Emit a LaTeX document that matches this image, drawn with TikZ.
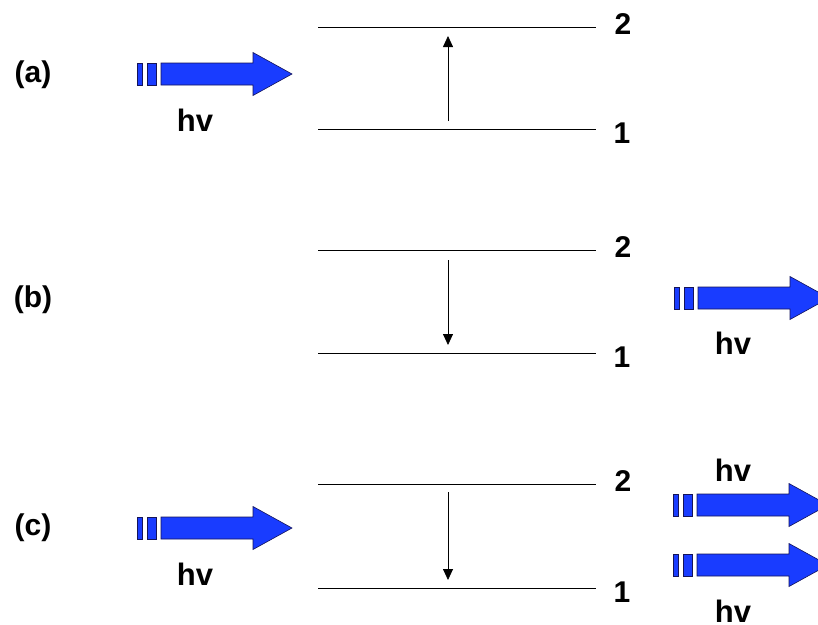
\documentclass[tikz,border=0pt]{standalone}
\usepackage{fontspec}
\setmainfont{Liberation Sans}
\usetikzlibrary{arrows.meta}
\definecolor{photonblue}{RGB}{25,60,255}
\definecolor{photonedge}{RGB}{20,20,90}
\tikzset{
  level/.style={line width=0.8pt},
  trans/.style={line width=0.8pt,-{Triangle[length=11pt,width=10pt]}},
  lbl/.style={font=\bfseries\fontsize{30}{30}\selectfont,inner sep=0pt},
  hvlbl/.style={font=\bfseries\fontsize{31}{31}\selectfont,inner sep=0pt},
  photon/.pic={
    \filldraw[fill=photonblue,draw=photonedge,line width=0.6pt] (0,-11) rectangle (5,11);
    \filldraw[fill=photonblue,draw=photonedge,line width=0.6pt] (10,-11) rectangle (19,11);
    \filldraw[fill=photonblue,draw=photonedge,line width=0.6pt]
      (24,-11) -- (116,-11) -- (116,-21.5) -- (155,0) -- (116,21.5) -- (116,11) -- (24,11) -- cycle;
  }
}
\begin{document}
\begin{tikzpicture}[x=1pt,y=-1pt]
\useasboundingbox (0,0) rectangle (818,624);
% energy levels, one row per case
\foreach \r/\top/\bot in {a/27/129,b/250/353,c/484/588}{
  \coordinate (\r2w) at (318,\top);
  \coordinate (\r2e) at (596,\top);
  \coordinate (\r1w) at (318,\bot);
  \coordinate (\r1e) at (596,\bot);
  \draw[level] (\r2w) -- (\r2e);
  \draw[level] (\r1w) -- (\r1e);
  \node[lbl] (\r2) at (623,\top-3) {2};
  \node[lbl] (\r1) at (622,\bot+4) {1};
}
\node[lbl] (casea) at (33,75) {(a)};
\node[lbl] (caseb) at (33,300) {(b)};
\node[lbl] (casec) at (33,528) {(c)};
% transitions
\coordinate (afrom) at (448,121);
\coordinate (ato) at (448,36);
\draw[trans] (afrom) -- (ato);
\coordinate (bfrom) at (448,260);
\coordinate (bto) at (448,345);
\draw[trans] (bfrom) -- (bto);
\coordinate (cfrom) at (448,492);
\coordinate (cto) at (448,580);
\draw[trans] (cfrom) -- (cto);
% photons
\pic at (137,74) {photon};
\node[hvlbl] (hva) at (195,120) {hv};
\pic at (674,298) {photon};
\node[hvlbl] (hvb) at (733,343) {hv};
\pic at (137,528) {photon};
\node[hvlbl] (hvc) at (195,574) {hv};
\pic at (673,505) {photon};
\node[hvlbl] (hvcu) at (733,470) {hv};
\pic at (673,565) {photon};
\node[hvlbl] (hvcd) at (733,611) {hv};
\end{tikzpicture}
\end{document}
